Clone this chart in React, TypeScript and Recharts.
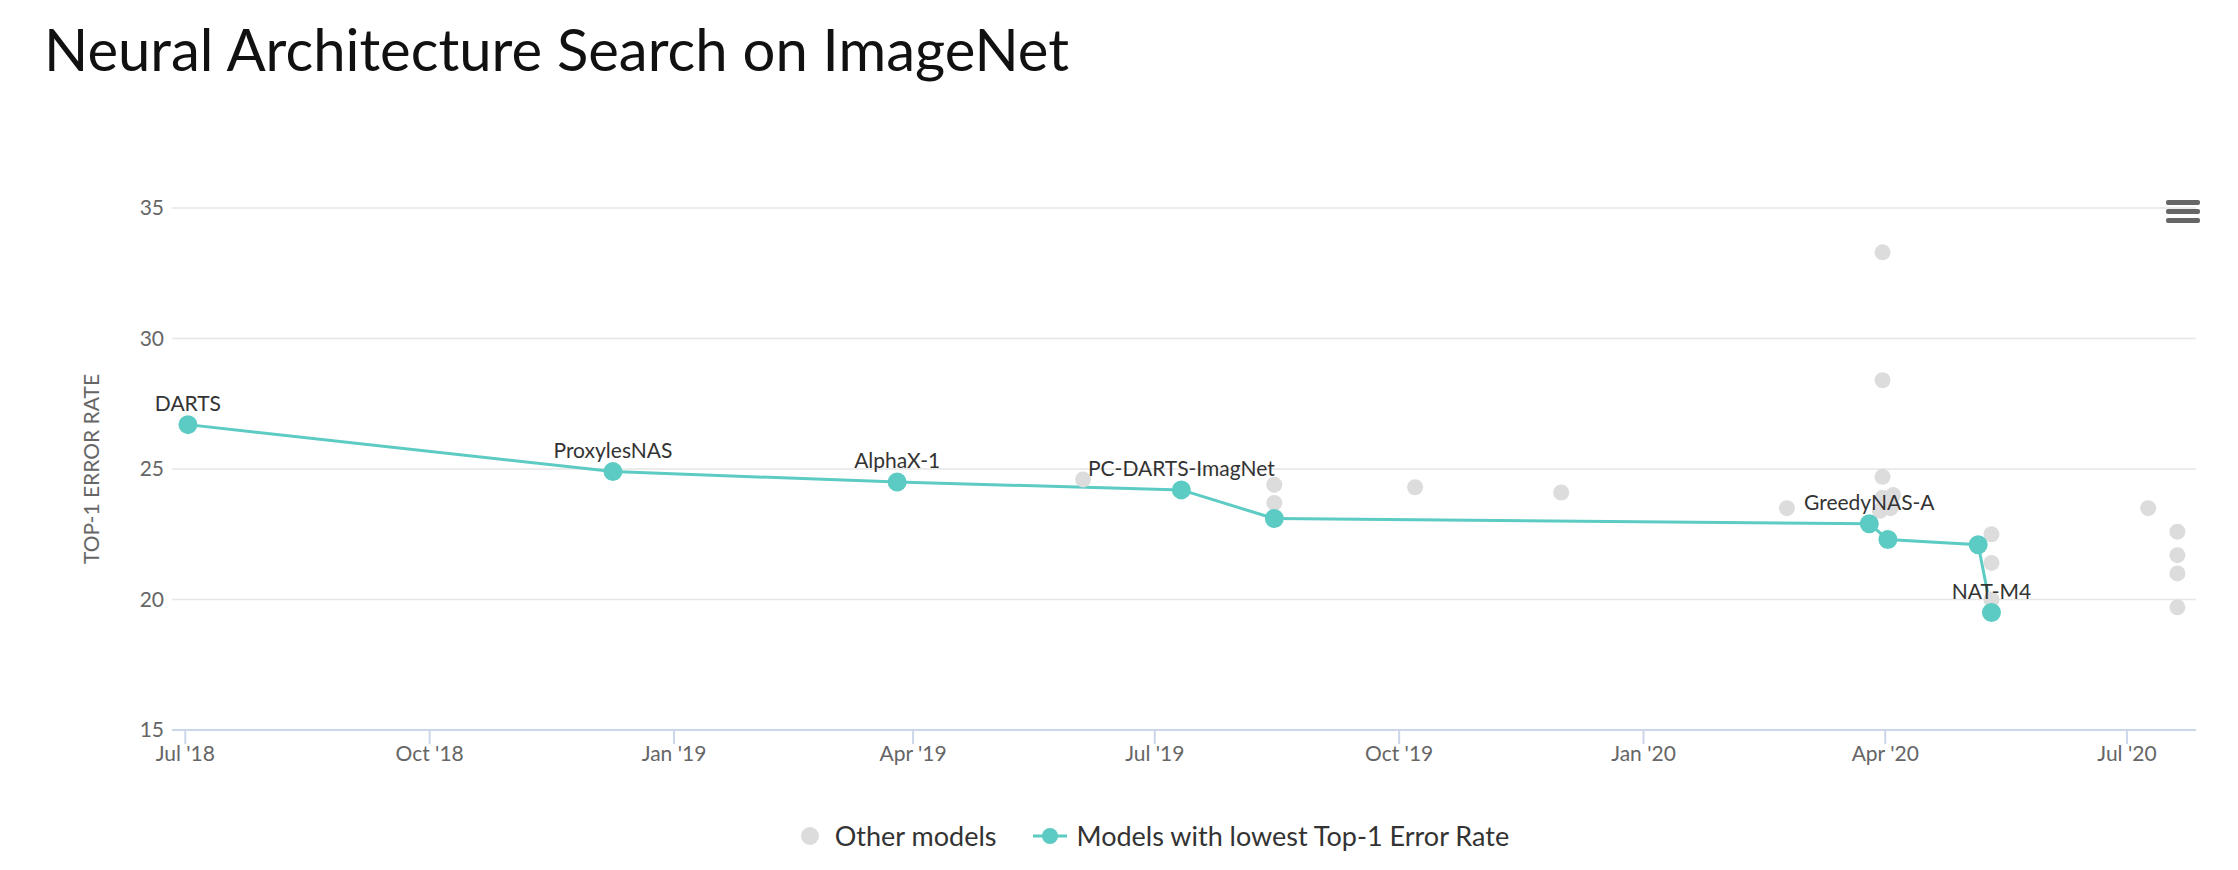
import React from 'react';
import { ComposedChart, Line, Scatter, XAxis, YAxis, CartesianGrid, Legend, LabelList } from 'recharts';

const d = (y: number, m: number, day: number) => Date.UTC(y, m - 1, day);

const bestNames = ['DARTS', 'ProxylesNAS', 'AlphaX-1', 'PC-DARTS-ImagNet', '', 'GreedyNAS-A', '', '', 'NAT-M4'];
const bestDates = [d(2018, 7, 2), d(2018, 12, 9), d(2019, 3, 26), d(2019, 7, 11), d(2019, 8, 15), d(2020, 3, 26), d(2020, 4, 2), d(2020, 5, 6), d(2020, 5, 11)];
const bestErrors = [26.7, 24.9, 24.5, 24.2, 23.1, 22.9, 22.3, 22.1, 19.5];

const otherDates = [d(2019, 6, 4), d(2019, 8, 15), d(2019, 8, 15), d(2019, 10, 7), d(2019, 12, 1), d(2020, 2, 24),
  d(2020, 3, 31), d(2020, 3, 31), d(2020, 3, 31), d(2020, 3, 31), d(2020, 3, 30), d(2020, 4, 3), d(2020, 4, 4),
  d(2020, 5, 11), d(2020, 5, 11), d(2020, 5, 11), d(2020, 7, 9), d(2020, 7, 20), d(2020, 7, 20), d(2020, 7, 20), d(2020, 7, 20)];
const otherErrors = [24.6, 24.4, 23.7, 24.3, 24.1, 23.5,
  33.3, 28.4, 24.7, 23.9, 23.4, 23.5, 24.0,
  22.5, 21.4, 20.0, 23.5, 22.6, 21.7, 21.0, 19.7];

const xTicks = [d(2018, 7, 1), d(2018, 10, 1), d(2019, 1, 1), d(2019, 4, 1), d(2019, 7, 1), d(2019, 10, 1), d(2020, 1, 1), d(2020, 4, 1), d(2020, 7, 1)];
const yTicks = [15, 20, 25, 30, 35];
const months = ['Jan', 'Feb', 'Mar', 'Apr', 'May', 'Jun', 'Jul', 'Aug', 'Sep', 'Oct', 'Nov', 'Dec'];
const legendNames = ['Other models', 'Models with lowest Top-1 Error Rate'];

const bestData = bestDates.map((x, i) => ({ x, y: bestErrors[i], name: bestNames[i] }));
const otherData = otherDates.map((x, i) => ({ x, y: otherErrors[i] }));

const TEAL = '#5ccbc3';
const GREY = '#dcdcdc';
const FONT = 'Lato, "Open Sans", sans-serif';

const fmt = (t: number) => {
  const dt = new Date(t);
  return `${months[dt.getUTCMonth()]} '${String(dt.getUTCFullYear()).slice(2)}`;
};

const LegendContent = () => (
  <div style={{ display: 'flex', justifyContent: 'center', alignItems: 'center', fontSize: 27, color: '#333', fontFamily: FONT }}>
    <svg width={22} height={22} style={{ marginRight: 14 }}><circle cx={11} cy={11} r={9} fill={GREY} /></svg>
    <span style={{ marginRight: 36 }}>{legendNames[0]}</span>
    <svg width={34} height={22} style={{ marginRight: 10 }}>
      <line x1={0} y1={11} x2={34} y2={11} stroke={TEAL} strokeWidth={3} />
      <circle cx={17} cy={11} r={8} fill={TEAL} />
    </svg>
    <span>{legendNames[1]}</span>
  </div>
);

export default function App() {
  return (
    <div style={{ position: 'fixed', left: 0, top: 0, width: 2238, height: 870, background: '#fff', fontFamily: FONT }}>
      <div style={{ position: 'absolute', left: 44, top: 14, fontSize: 58, fontWeight: 400, color: '#111', fontFamily: FONT }}>
        Neural Architecture Search on ImageNet
      </div>
      <div style={{ position: 'absolute', left: 2166, top: 200 }}>
        {[0, 1, 2].map(i => (
          <div key={i} style={{ width: 34, height: 5, background: '#666', borderRadius: 2, marginBottom: 4 }} />
        ))}
      </div>
      <ComposedChart width={2238} height={870} margin={{ top: 208, right: 42, left: 112, bottom: 67 }}>
        <CartesianGrid vertical={false} stroke="#e6e6e6" strokeWidth={1.5} />
        <XAxis type="number" dataKey="x" domain={[d(2018, 6, 26), d(2020, 7, 27)]} ticks={xTicks} tickFormatter={fmt}
          allowDataOverflow height={40} stroke="#ccd6eb" strokeWidth={2} tickSize={14}
          tick={{ fill: '#666', fontSize: 21, fontFamily: FONT }} />
        <YAxis type="number" domain={[15, 35]} ticks={yTicks} width={60} axisLine={false} tickLine={false}
          tick={{ fill: '#666', fontSize: 21, fontFamily: FONT }}
          label={{ value: 'TOP-1 ERROR RATE', angle: -90, position: 'insideLeft', offset: -20, style: { fill: '#666', fontSize: 21, fontFamily: FONT, textAnchor: 'middle' } }} />
        <Scatter name="Other models" data={otherData} dataKey="y" fill={GREY} isAnimationActive={false}
          shape={(p: any) => <circle cx={p.cx} cy={p.cy} r={8} fill={GREY} />} />
        <Line name="Models with lowest Top-1 Error Rate" data={bestData} dataKey="y" stroke={TEAL} strokeWidth={3}
          dot={{ r: 8, fill: TEAL, stroke: TEAL }} activeDot={false} isAnimationActive={false} type="linear">
          <LabelList dataKey="name" position="top" offset={14} style={{ fill: '#333', fontSize: 21, fontFamily: FONT }} />
        </Line>
        <Legend verticalAlign="bottom" content={LegendContent} wrapperStyle={{ bottom: 18 }} />
      </ComposedChart>
    </div>
  );
}
